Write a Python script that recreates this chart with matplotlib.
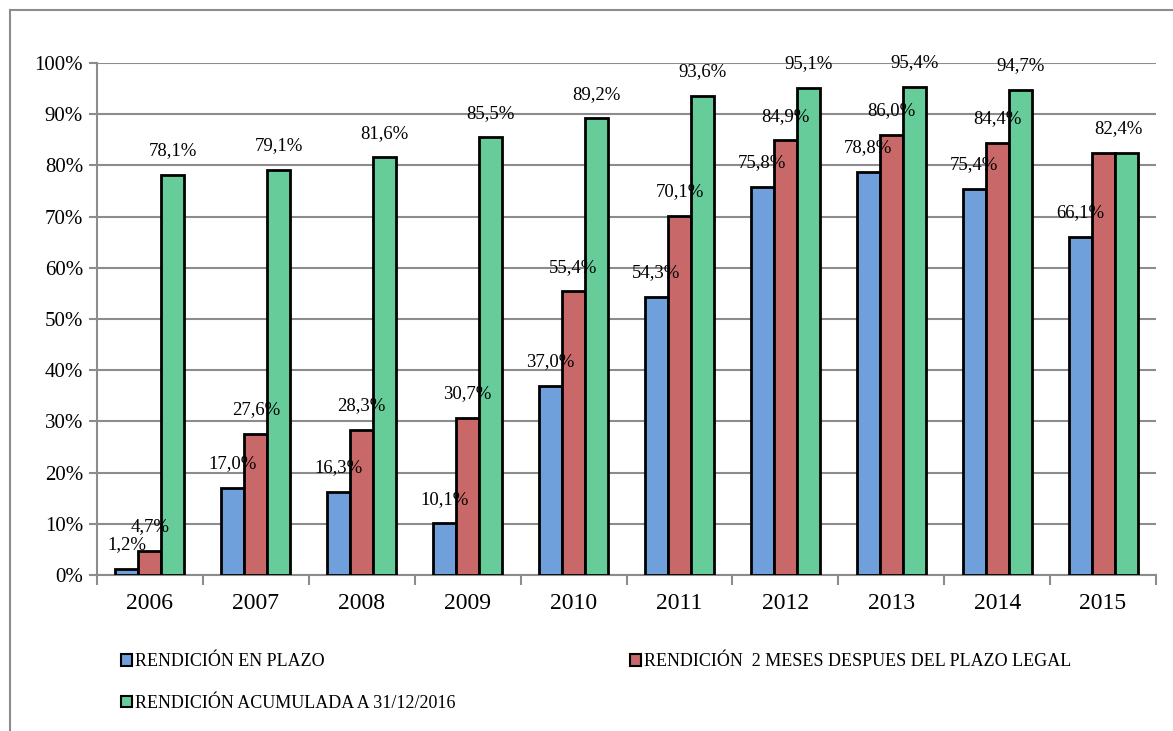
import matplotlib
matplotlib.use("Agg")
import matplotlib.pyplot as plt
from matplotlib.lines import Line2D
from matplotlib.patches import Patch
import numpy as np

plt.rcParams['font.family'] = ['Liberation Serif', 'DejaVu Serif']

years = ['2006', '2007', '2008', '2009', '2010', '2011', '2012', '2013', '2014', '2015']
en_plazo = [1.2, 17.0, 16.3, 10.1, 37.0, 54.3, 75.8, 78.8, 75.4, 66.1]
dos_meses = [4.7, 27.6, 28.3, 30.7, 55.4, 70.1, 84.9, 86.0, 84.4, 82.4]
acumulada = [78.1, 79.1, 81.6, 85.5, 89.2, 93.6, 95.1, 95.4, 94.7, 82.4]
series_names = ['RENDICIÓN EN PLAZO',
                'RENDICIÓN  2 MESES DESPUES DEL PLAZO LEGAL',
                'RENDICIÓN ACUMULADA A 31/12/2016']
colors = ['#6fa0dc', '#c86868', '#66cc99']

fig = plt.figure(figsize=(11.73, 7.31), dpi=100)
ax = fig.add_axes([97/1173, 1-575/731, (1156-97)/1173, (575-63)/731])

# outer frame (cut at right/bottom like the screenshot)
fig.add_artist(Line2D([10/1173, 1.0], [1-10/731, 1-10/731], color='#8c8c8c', lw=1.5))
fig.add_artist(Line2D([10/1173, 10/1173], [0.0, 1-10/731], color='#8c8c8c', lw=1.5))

x = np.arange(len(years))
w = 0.217
data = [en_plazo, dos_meses, acumulada]
handles = []
for i, vals in enumerate(data):
    pos = x + (i - 1) * w
    ax.bar(pos, vals, width=w, color=colors[i], edgecolor='black', linewidth=2, zorder=3)
    handles.append(Patch(facecolor=colors[i], edgecolor='black', linewidth=1.5, label=series_names[i]))
    for j, v in enumerate(vals):
        if i == 1 and v == acumulada[j]:
            continue  # same value as accumulated, label overlaps
        lx = pos[j]
        if i == 2 and v == dos_meses[j]:
            lx = pos[j] - 0.07
        ax.text(lx, v + 4.7, f'{v:.1f}%'.replace('.', ','), ha='center', va='center',
                fontsize=13.5, zorder=4)

ax.set_xlim(-0.5, len(years) - 0.5)
ax.set_ylim(0, 100)
ax.set_yticks(np.arange(0, 101, 10))
ax.set_yticklabels([f'{t}%' for t in range(0, 101, 10)], fontsize=15)
ax.set_xticks(x)
ax.set_xticklabels(years, fontsize=17)
ax.set_xticks(np.arange(-0.5, len(years), 1), minor=True)
ax.tick_params(axis='x', which='major', length=0, pad=13)
ax.tick_params(axis='x', which='minor', length=7, width=1.5, color='#8c8c8c')
ax.tick_params(axis='y', length=6, width=1.5, color='#8c8c8c', pad=4)
ax.yaxis.grid(True, color='#8c8c8c', linewidth=1.5, zorder=0)
ax.set_axisbelow(True)
for s in ['top', 'right']:
    ax.spines[s].set_visible(False)
for s in ['left', 'bottom']:
    ax.spines[s].set_color('#8c8c8c')
    ax.spines[s].set_linewidth(1.5)

# reorder so rows read blue, red / green
leg = fig.legend([handles[0], handles[2], handles[1]],
                 [series_names[0], series_names[2], series_names[1]],
                 ncol=2, loc='upper left', bbox_to_anchor=(105/1173, 1-637/731),
                 frameon=False, fontsize=13, handlelength=0.6, handleheight=0.6,
                 handletextpad=0.15, labelspacing=1.35, columnspacing=9.7)

fig.savefig('out.png', dpi=100)
